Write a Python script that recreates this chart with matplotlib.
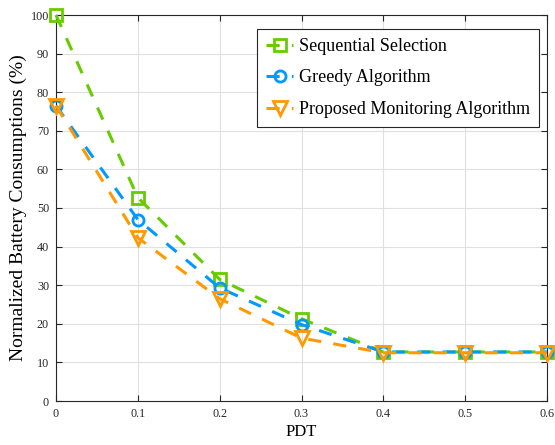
import matplotlib
matplotlib.use("Agg")
import matplotlib.pyplot as plt

pdt = [0, 0.1, 0.2, 0.3, 0.4, 0.5, 0.6]
sequential = [100, 52.7, 31.5, 21.3, 12.7, 12.7, 12.7]
greedy = [76.5, 47.0, 29.3, 19.8, 12.7, 12.7, 12.7]
proposed = [76.5, 42.3, 26.5, 16.3, 12.5, 12.5, 12.5]
labels = ["Sequential Selection", "Greedy Algorithm", "Proposed Monitoring Algorithm"]
xticks = [0, 0.1, 0.2, 0.3, 0.4, 0.5, 0.6]
yticks = list(range(0, 101, 10))

plt.rcParams['font.family'] = ['Liberation Serif', 'DejaVu Serif']

fig = plt.figure(figsize=(5.55, 4.45), dpi=100)
ax = fig.add_axes([56/555, 1-401/445, 491/555, 386/445])

common = dict(lw=2.2, mfc='none', mew=2, dashes=(4.3, 4.0), clip_on=False)
ax.plot(pdt, sequential, color='#66cc00', marker='s', ms=8, label=labels[0], zorder=3, **common)
ax.plot(pdt, greedy, color='#0099ff', marker='o', ms=8, label=labels[1], zorder=4, **common)
ax.plot(pdt, proposed, color='#ff9900', marker='v', ms=9.5, label=labels[2], zorder=5, **common)

ax.set_xlim(0, 0.6)
ax.set_ylim(0, 100)
ax.set_xticks(xticks)
ax.set_xticklabels([f"{v:g}" for v in xticks])
ax.set_yticks(yticks)
ax.grid(True, color='#e0e0e0', lw=0.8)
ax.set_axisbelow(True)
ax.tick_params(direction='in', top=True, right=True, labelsize=8.7, colors='#262626',
               length=4.5, pad=5)
for s in ax.spines.values():
    s.set_color('#262626')
    s.set_linewidth(0.8)
ax.set_xlabel("PDT", fontsize=12, labelpad=3)
ax.set_ylabel("Normalized Battery Consumptions (%)", fontsize=14, labelpad=3)

leg = ax.legend(loc='upper right', bbox_to_anchor=((539-56)/491, (401-29)/386),
                borderaxespad=0, fontsize=13,
                frameon=True, fancybox=False, edgecolor='#262626', framealpha=1,
                handlelength=1.5, borderpad=0.5, labelspacing=0.8, handletextpad=0.3)
leg.get_frame().set_linewidth(0.8)

fig.savefig("out.png", dpi=100)
